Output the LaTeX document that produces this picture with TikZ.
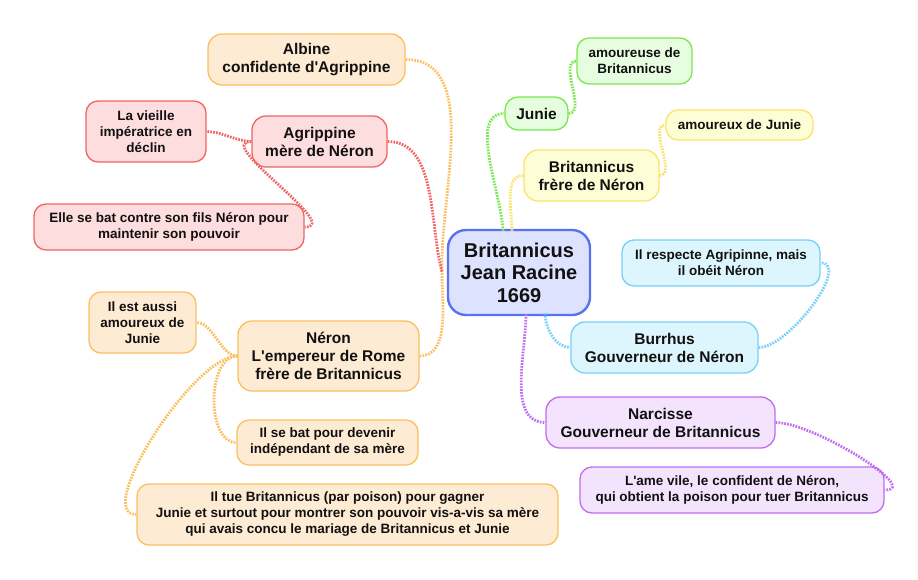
\documentclass[tikz,border=0pt]{standalone}
\usepackage{fontspec}
\setmainfont{Liberation Sans}[Ligatures=TeXOff]
\definecolor{txt}{HTML}{111111}
\definecolor{cenF}{HTML}{DDE3FE}\definecolor{cenD}{HTML}{5B72F0}
\definecolor{orF}{HTML}{FEEBD3}\definecolor{orD}{HTML}{FBBF5F}
\definecolor{reF}{HTML}{FEDDDE}\definecolor{reD}{HTML}{F06464}
\definecolor{grF}{HTML}{E6FDE0}\definecolor{grD}{HTML}{78E850}
\definecolor{yeF}{HTML}{FEFED6}\definecolor{yeD}{HTML}{FBE26A}
\definecolor{blF}{HTML}{DDF6FE}\definecolor{blD}{HTML}{78CFF8}
\definecolor{puF}{HTML}{F3E3FD}\definecolor{puD}{HTML}{C06CF0}
\tikzset{
  box/.style={draw, rounded corners=14pt, line width=1.3pt, align=center, inner sep=0pt, text=txt},
  lvA/.style={box, font=\bfseries\fontsize{15.5}{18}\selectfont},
  lvB/.style={box, rounded corners=12pt, font=\bfseries\fontsize{13.5}{16}\selectfont},
  cen/.style={box, rounded corners=18pt, line width=2.4pt, fill=cenF, draw=cenD, font=\bfseries\fontsize{20}{22.5}\selectfont},
  orn/.style={fill=orF, draw=orD}, red/.style={fill=reF, draw=reD},
  grn/.style={fill=grF, draw=grD}, yel/.style={fill=yeF, draw=yeD},
  blu/.style={fill=blF, draw=blD}, pur/.style={fill=puF, draw=puD},
  link/.style={line width=2.8pt, dash pattern=on 1.7pt off 1.2pt},
}
\begin{document}
\begin{tikzpicture}[x=1pt,y=-1pt]
\useasboundingbox (0,0) rectangle (918,579);
% central
\node[cen, minimum width=142pt, minimum height=85pt] (c) at (519,272.5) {Britannicus\\Jean Racine\\1669};
\coordinate (hubL) at (442,272);
\coordinate (topG) at (503,231);
\coordinate (topY) at (512,231);
\coordinate (botP) at (526,314);
\coordinate (botB) at (545,313);
% left orange / red
\node[lvA, orn, minimum width=197pt, minimum height=51pt] (alb) at (306.5,59.5) {Albine\\confidente d'Agrippine};
\node[lvA, red, minimum width=135pt, minimum height=51pt] (agr) at (319.5,141.5) {Agrippine\\mère de Néron};
\node[lvB, red, minimum width=120pt, minimum height=61pt] (vie) at (146,131.5) {La vieille\\impératrice en\\déclin};
\node[lvB, red, minimum width=270pt, minimum height=46pt] (elle) at (169,227) {Elle se bat contre son fils Néron pour\\maintenir son pouvoir};
\node[lvA, orn, minimum width=181pt, minimum height=70pt] (ner) at (328.5,356) {Néron\\L'empereur de Rome\\frère de Britannicus};
\node[lvB, orn, minimum width=107pt, minimum height=61pt] (aus) at (142.5,322.5) {Il est aussi\\amoureux de\\Junie};
\node[lvB, orn, minimum width=181pt, minimum height=45pt] (ind) at (327.5,442.5) {Il se bat pour devenir\\indépendant de sa mère};
\node[lvB, orn, minimum width=421pt, minimum height=61pt] (tue) at (347.5,514.5) {Il tue Britannicus (par poison) pour gagner\\Junie et surtout pour montrer son pouvoir vis-a-vis sa mère\\qui avais concu le mariage de Britannicus et Junie};
% right
\node[lvA, grn, minimum width=63pt, minimum height=33pt, rounded corners=13pt] (jun) at (536.5,113.5) {Junie};
\node[lvB, grn, minimum width=115pt, minimum height=46pt] (amo) at (634.5,61) {amoureuse de\\Britannicus};
\node[lvA, yel, minimum width=135pt, minimum height=51pt] (bri) at (591.5,175.5) {Britannicus\\frère de Néron};
\node[lvB, yel, minimum width=147pt, minimum height=30pt] (amx) at (739.5,125) {amoureux de Junie};
\node[lvB, blu, minimum width=198pt, minimum height=46pt] (res) at (721,263) {Il respecte Agripinne, mais\\il obéit Néron};
\node[lvA, blu, minimum width=187pt, minimum height=51pt] (bur) at (664.5,347.5) {Burrhus\\Gouverneur de Néron};
\node[lvA, pur, minimum width=229pt, minimum height=51pt] (nar) at (660.5,422.5) {Narcisse\\Gouverneur de Britannicus};
\node[lvB, pur, minimum width=304pt, minimum height=46pt] (ame) at (732,490) {L'ame vile, le confident de Néron,\\qui obtient la poison pour tuer Britannicus};
% connectors
\draw[link, draw=orD] (alb.east) to[out=0,in=92,looseness=0.9] (hubL);
\draw[link, draw=reD] (agr.east) to[out=0,in=105,looseness=0.9] (hubL);
\draw[link, draw=orD] (ner.east) to[out=0,in=-90,looseness=0.9] (hubL);
\draw[link, draw=grD] (topG) to[out=92,in=180,looseness=0.8] (jun.west);
\draw[link, draw=yeD] (topY) to[out=90,in=180,looseness=0.9] (bri.west);
\draw[link, draw=grD] (jun.east) to[out=0,in=180,looseness=0.9] (amo.west);
\draw[link, draw=yeD] (bri.east) to[out=0,in=180,looseness=0.9] (amx.west);
\draw[link, draw=blD] (botB) to[out=-90,in=180,looseness=0.9] (bur.west);
\draw[link, draw=blD] (bur.east) to[out=0,in=0,looseness=0.75] (res.east);
\draw[link, draw=puD] (botP) to[out=-90,in=180,looseness=0.9] (nar.west);
\draw[link, draw=puD] (nar.east) to[out=0,in=0,looseness=0.75] (ame.east);
\draw[link, draw=reD] (agr.west) to[out=180,in=0,looseness=0.8] (vie.east);
\draw[link, draw=reD] (agr.west) to[out=180,in=0,looseness=1.0] (elle.east);
\draw[link, draw=orD] (ner.west) to[out=180,in=0,looseness=0.8] (aus.east);
\draw[link, draw=orD] (ner.west) to[out=180,in=180,looseness=0.9] (ind.west);
\draw[link, draw=orD] (ner.west) to[out=180,in=180,looseness=0.6] (tue.west);
\end{tikzpicture}
\end{document}
